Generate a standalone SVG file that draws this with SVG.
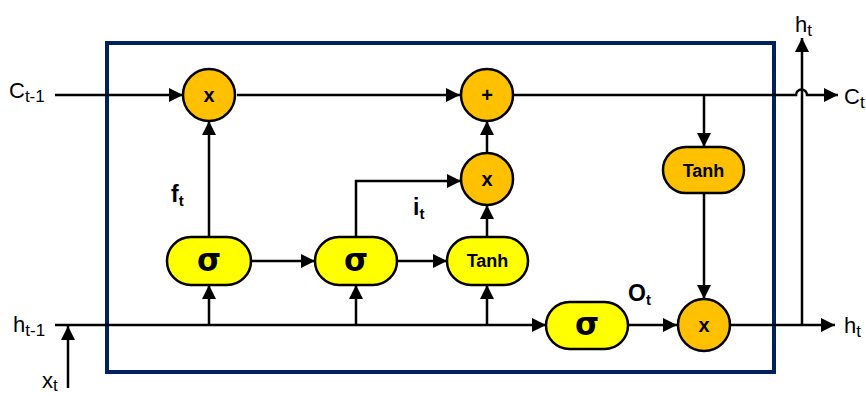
<svg xmlns="http://www.w3.org/2000/svg" width="866" height="396" viewBox="0 0 866 396">
  <defs>
    <marker id="arr" viewBox="0 0 10 10" refX="10" refY="5" markerWidth="14" markerHeight="14" markerUnits="userSpaceOnUse" orient="auto">
      <path d="M0,0 L10,5 L0,10 z" fill="#000"/>
    </marker>
    <style>
      .ln { stroke: #000; stroke-width: 2.5; fill: none; }
      .ar { marker-end: url(#arr); }
      .op { fill: #ffc000; stroke: #000; stroke-width: 2.5; }
      .sg { fill: #ffff00; stroke: #000; stroke-width: 2.5; }
      .lab { font-family: "Liberation Sans", Arial, sans-serif; font-size: 22px; fill: #000; }
      .sub { font-size: 17px; }
      .bl { font-family: "Liberation Sans", Arial, sans-serif; font-weight: bold; fill: #000; }
      .sym { font-family: "Liberation Sans", Arial, sans-serif; font-weight: bold; font-size: 20px; text-anchor: middle; fill: #000; }
      .tanh { font-family: "Liberation Sans", Arial, sans-serif; font-weight: bold; font-size: 18px; text-anchor: middle; fill: #000; }
      .sig { font-family: "DejaVu Sans", sans-serif; font-weight: bold; font-size: 31px; text-anchor: middle; fill: #000; }
    </style>
  </defs>
  <rect width="866" height="396" fill="#fff"/>

  <!-- cell boundary -->
  <rect id="cell" x="107" y="43" width="667" height="329" fill="none" stroke="#002060" stroke-width="4"/>

  <!-- connectors -->
  <g id="connectors">
    <!-- cell state line -->
    <path class="ln ar" d="M55,95 H183"/>
    <path class="ln ar" d="M237,95 H460"/>
    <path class="ln ar" d="M514,95 H796 A5.5,5.5 0 0 1 807,95 H838"/>
    <path class="ln ar" d="M704,95 V147"/>
    <path class="ln ar" d="M704,193 V299"/>
    <!-- hidden state line -->
    <path class="ln ar" d="M55,325 H546"/>
    <path class="ln ar" d="M68,388 V326"/>
    <path class="ln ar" d="M209,325 V285"/>
    <path class="ln ar" d="M356,325 V285"/>
    <path class="ln ar" d="M487,325 V285"/>
    <path class="ln ar" d="M628,325 H677"/>
    <path class="ln ar" d="M730,325 H835"/>
    <path class="ln ar" d="M802,325 V38"/>
    <!-- gate links -->
    <path class="ln ar" d="M209,237 V121"/>
    <path class="ln ar" d="M251,261 H315"/>
    <path class="ln ar" d="M397,261 H447"/>
    <path class="ln ar" d="M356,237 V181 H461"/>
    <path class="ln ar" d="M487,237 V205"/>
    <path class="ln ar" d="M487,153 V121"/>
  </g>

  <!-- forget multiply -->
  <g id="mul-forget">
    <circle class="op" cx="209" cy="95" r="26"/>
    <text class="sym" x="209" y="102">x</text>
  </g>
  <!-- cell add -->
  <g id="add-cell">
    <circle class="op" cx="487" cy="95" r="26"/>
    <text class="sym" x="487" y="102" font-size="24">+</text>
  </g>
  <!-- input multiply -->
  <g id="mul-input">
    <circle class="op" cx="487" cy="179" r="26"/>
    <text class="sym" x="487" y="186">x</text>
  </g>
  <!-- output multiply -->
  <g id="mul-output">
    <circle class="op" cx="704" cy="325" r="26"/>
    <text class="sym" x="704" y="332">x</text>
  </g>
  <!-- cell tanh -->
  <g id="tanh-cell">
    <rect class="op" x="663" y="147" width="81" height="46" rx="23"/>
    <text class="tanh" x="703.5" y="177">Tanh</text>
  </g>
  <!-- forget gate -->
  <g id="sigma-forget">
    <rect class="sg" x="167" y="237" width="84" height="48" rx="24"/>
    <text class="sig" x="209" y="271">σ</text>
  </g>
  <!-- input gate -->
  <g id="sigma-input">
    <rect class="sg" x="315" y="237" width="82" height="48" rx="24"/>
    <text class="sig" x="356" y="271">σ</text>
  </g>
  <!-- candidate tanh -->
  <g id="tanh-candidate">
    <rect class="sg" x="447" y="237" width="81" height="48" rx="24"/>
    <text class="tanh" x="487.5" y="267">Tanh</text>
  </g>
  <!-- output gate -->
  <g id="sigma-output">
    <rect class="sg" x="546" y="302" width="82" height="47" rx="23.5"/>
    <text class="sig" x="587" y="335">σ</text>
  </g>

  <!-- labels -->
  <g id="labels">
    <text class="lab" x="9" y="98">C<tspan class="sub" dy="4">t-1</tspan></text>
    <text class="lab" x="13" y="332">h<tspan class="sub" dy="4">t-1</tspan></text>
    <text class="lab" x="42" y="388">x<tspan class="sub" dy="3">t</tspan></text>
    <text class="lab" x="795" y="32">h<tspan class="sub" dy="4">t</tspan></text>
    <text class="lab" x="844" y="333">h<tspan class="sub" dy="4">t</tspan></text>
    <text class="lab" x="844" y="104">C<tspan class="sub" dy="4">t</tspan></text>
    <text class="bl" x="171" y="202" font-size="23">f<tspan font-size="15" dy="4">t</tspan></text>
    <text class="bl" x="413" y="215" font-size="23">i<tspan font-size="15" dy="4">t</tspan></text>
    <text class="bl" x="628" y="301" font-size="23">O<tspan font-size="15" dy="4">t</tspan></text>
  </g>
</svg>
